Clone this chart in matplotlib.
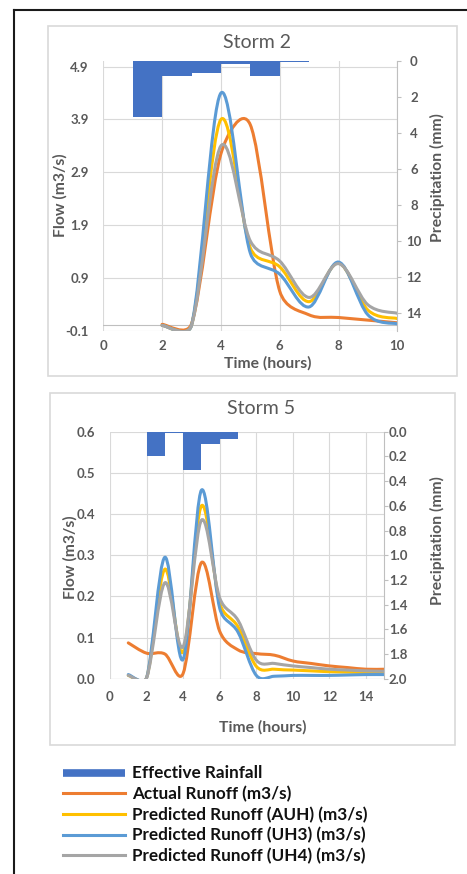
import numpy as np
import matplotlib
matplotlib.use('Agg')
import matplotlib.pyplot as plt
from matplotlib.path import Path
from matplotlib.patches import PathPatch, Rectangle
from matplotlib.lines import Line2D

plt.rcParams['font.family'] = ['Lato', 'DejaVu Sans']

# ---------------- data ----------------
# Storm 2
s2_hours = [2, 3, 4, 5, 6, 7, 8, 9, 10]
s2_actual = [0.02, 0.03, 3.25, 3.80, 0.65, 0.20, 0.15, 0.10, 0.05]
s2_auh = [0.0, 0.0, 3.90, 1.47, 1.11, 0.45, 1.18, 0.29, 0.13]
s2_uh3 = [0.0, 0.0, 4.40, 1.37, 0.97, 0.35, 1.20, 0.20, 0.03]
s2_uh4 = [0.0, 0.0, 3.40, 1.60, 1.22, 0.53, 1.17, 0.39, 0.23]
s2_rain_start = [1, 2, 3, 4, 5, 6]
s2_rain = [3.1, 0.8, 0.65, 0.15, 0.8, 0.05]

# Storm 5
s5_hours = [1, 2, 3, 4, 5, 6, 7, 8, 9, 10, 11, 12, 13, 14, 15]
s5_actual = [0.087, 0.062, 0.060, 0.013, 0.282, 0.115, 0.070, 0.061, 0.057,
             0.043, 0.037, 0.031, 0.027, 0.023, 0.023]
s5_auh = [0.008, 0.002, 0.266, 0.065, 0.420, 0.183, 0.126, 0.030, 0.023,
          0.021, 0.019, 0.017, 0.016, 0.015, 0.014]
s5_uh3 = [0.010, 0.002, 0.295, 0.047, 0.458, 0.171, 0.113, 0.008, 0.006,
          0.008, 0.008, 0.008, 0.009, 0.010, 0.010]
s5_uh4 = [0.008, 0.002, 0.233, 0.078, 0.385, 0.196, 0.142, 0.045, 0.037,
          0.031, 0.027, 0.023, 0.021, 0.019, 0.018]
s5_rain_start = [2, 3, 4, 5, 6]
s5_rain = [0.2, 0.01, 0.31, 0.1, 0.06]

s2_flow_ticks = [-0.1, 0.9, 1.9, 2.9, 3.9, 4.9]
s2_rain_ticks = [0, 2, 4, 6, 8, 10, 12, 14]
s5_flow_ticks = [0.0, 0.1, 0.2, 0.3, 0.4, 0.5, 0.6]
s5_rain_ticks = [0.0, 0.2, 0.4, 0.6, 0.8, 1.0, 1.2, 1.4, 1.6, 1.8, 2.0]

legend_labels = ['Effective Rainfall', 'Actual Runoff (m3/s)',
                 'Predicted Runoff (AUH) (m3/s)', 'Predicted Runoff (UH3) (m3/s)',
                 'Predicted Runoff (UH4) (m3/s)']

C_RAIN = '#4472C4'
C_ACT = '#ED7D31'
C_AUH = '#FFC000'
C_UH3 = '#5B9BD5'
C_UH4 = '#A5A5A5'
TXT = '#595959'
GRID = '#d9d9d9'

W, H = 467, 874
fig = plt.figure(figsize=(W / 100, H / 100), dpi=100)
fig.patch.set_facecolor('white')


def px_axes(l, t, r, b):
    return fig.add_axes([l / W, 1 - b / H, (r - l) / W, (b - t) / H])


def excel_smooth(ax, x, y, color, lw=2.2):
    pts = ax.transData.transform(np.column_stack([x, y]).astype(float))
    n = len(pts)
    verts = [pts[0]]
    codes = [Path.MOVETO]
    for i in range(n - 1):
        p0 = pts[i - 1] if i > 0 else pts[i]
        p1 = pts[i]
        p2 = pts[i + 1]
        p3 = pts[i + 2] if i + 2 < n else pts[i + 1]
        d12 = np.hypot(*(p2 - p1))
        d02 = np.hypot(*(p2 - p0))
        d13 = np.hypot(*(p3 - p1))
        f1 = 1 / 6 if d02 / 6 <= d12 / 2 else d12 / (2 * d02)
        f2 = 1 / 6 if d13 / 6 <= d12 / 2 else d12 / (2 * d13)
        c1 = p1 + (p2 - p0) * f1
        c2 = p2 - (p3 - p1) * f2
        verts += [c1, c2, p2]
        codes += [Path.CURVE4] * 3
    verts = ax.transData.inverted().transform(np.array(verts))
    patch = PathPatch(Path(verts, codes), fill=False, edgecolor=color, lw=lw,
                      capstyle='round', joinstyle='round', zorder=3)
    ax.add_patch(patch)


def make_chart(box, title, title_xy, xlim, xticks, flow_lim, flow_ticks, flow_fmt,
               rain_lim, rain_ticks, rain_fmt, right_pad, hours, series,
               rain_start, rain, ylab_xy, rlab_xy, xlab_xy, xpad):
    ax = px_axes(*box)
    ax.set_xlim(*xlim)
    ax.set_ylim(*flow_lim)
    ax2 = ax.twinx()
    ax2.set_ylim(*rain_lim)
    for sp in ax.spines.values():
        sp.set_visible(False)
    for name, sp in ax2.spines.items():
        sp.set_visible(name == 'right')
    ax2.spines['right'].set_color('#bfbfbf')
    ax2.spines['right'].set_linewidth(0.8)

    ax.set_xticks(xticks, [str(v) for v in xticks], fontweight='bold')
    ax.set_yticks(flow_ticks, [flow_fmt.format(v) for v in flow_ticks], fontweight='bold')
    ax2.set_yticks(rain_ticks, [rain_fmt.format(v) for v in rain_ticks], fontweight='bold')
    ax.tick_params(axis='both', length=0, labelsize=9.5, labelcolor=TXT)
    ax.tick_params(axis='y', pad=10.5)
    ax.tick_params(axis='x', pad=xpad)
    ax2.tick_params(axis='y', length=3, width=0.8, color='#bfbfbf', labelsize=9.5,
                    labelcolor=TXT, pad=right_pad)
    for lbl in ax2.get_yticklabels():
        lbl.set_horizontalalignment('center')

    ax.grid(True, color=GRID, lw=0.8)
    ax.set_axisbelow(True)
    ax.axhline(0, color='#bfbfbf', lw=0.8, zorder=1.5)

    ax2.bar(rain_start, rain, width=1, align='edge', color=C_RAIN, zorder=2)

    for vals, col in series:
        excel_smooth(ax, hours, vals, col)

    ax.set_ylabel('Flow (m3/s)', fontsize=11.3, fontweight='bold', color=TXT)
    ax.yaxis.set_label_coords(*ylab_xy)
    ax.yaxis.label.set_va('center')
    ax2.set_ylabel('Precipitation (mm)', fontsize=11.3, fontweight='bold', color=TXT)
    ax2.yaxis.set_label_coords(*rlab_xy)
    ax2.yaxis.label.set_va('center')
    ax.set_xlabel('Time (hours)', fontsize=11.3, fontweight='bold', color=TXT)
    ax.xaxis.set_label_coords(*xlab_xy)
    ax.xaxis.label.set_va('center')
    fig.text(title_xy[0] / W, 1 - title_xy[1] / H, title, fontsize=14, color=TXT,
             ha='center', va='center')
    return ax, ax2


# panel frames
for (l, t, r, b) in [(48, 26, 457, 376), (50, 393, 455, 745)]:
    fig.add_artist(Rectangle((l / W, 1 - b / H), (r - l) / W, (b - t) / H,
                             transform=fig.transFigure, fill=False,
                             ec=GRID, lw=1.2))
# outer frame
fig.add_artist(Line2D([14 / W, 14 / W], [0, 1 - 10 / H], transform=fig.transFigure,
                      color='#1a1a1a', lw=1.5))
fig.add_artist(Line2D([14 / W, 1], [1 - 10 / H, 1 - 10 / H], transform=fig.transFigure,
                      color='#1a1a1a', lw=1.5))

make_chart((103.3, 61.4, 397.3, 330.7), 'Storm 2', (256.7, 42), (0, 10),
           [0, 2, 4, 6, 8, 10], (-0.1, 5.0), s2_flow_ticks, '{:.1f}',
           (15, 0), s2_rain_ticks, '{:d}', 9, s2_hours,
           [(s2_actual, C_ACT), (s2_auh, C_AUH), (s2_uh3, C_UH3), (s2_uh4, C_UH4)],
           s2_rain_start, s2_rain,
           ((60 - 103.3) / 294, 0.504), ((437 - 103.3) / 294, 0.567),
           (0.561, -0.12), 6.5)

make_chart((110, 431.7, 384.3, 678.7), 'Storm 5', (260.7, 409), (0, 15),
           [0, 2, 4, 6, 8, 10, 12, 14], (0.0, 0.6), s5_flow_ticks, '{:.1f}',
           (2.0, 0.0), s5_rain_ticks, '{:.1f}', 7, s5_hours,
           [(s5_actual, C_ACT), (s5_auh, C_AUH), (s5_uh3, C_UH3), (s5_uh4, C_UH4)],
           s5_rain_start, s5_rain,
           ((70 - 110) / 274.3, 0.49), ((437 - 110) / 274.3, 0.56),
           (0.558, -0.196), 8.5)

handles = [Line2D([], [], color=C_RAIN, lw=5.5, solid_capstyle='butt'),
           Line2D([], [], color=C_ACT, lw=2.2),
           Line2D([], [], color=C_AUH, lw=2.2),
           Line2D([], [], color=C_UH3, lw=2.2),
           Line2D([], [], color=C_UH4, lw=2.2)]
leg = fig.legend(handles, legend_labels, loc='upper left',
                 bbox_to_anchor=(63 / W, 1 - 765.5 / H), frameon=False,
                 prop={'weight': 'bold', 'size': 12.3}, handlelength=3.6,
                 handletextpad=0.44, labelspacing=0.26, borderpad=0,
                 borderaxespad=0)
for t in leg.get_texts():
    t.set_color('#111111')

fig.savefig('out.png', dpi=100, facecolor='white')
